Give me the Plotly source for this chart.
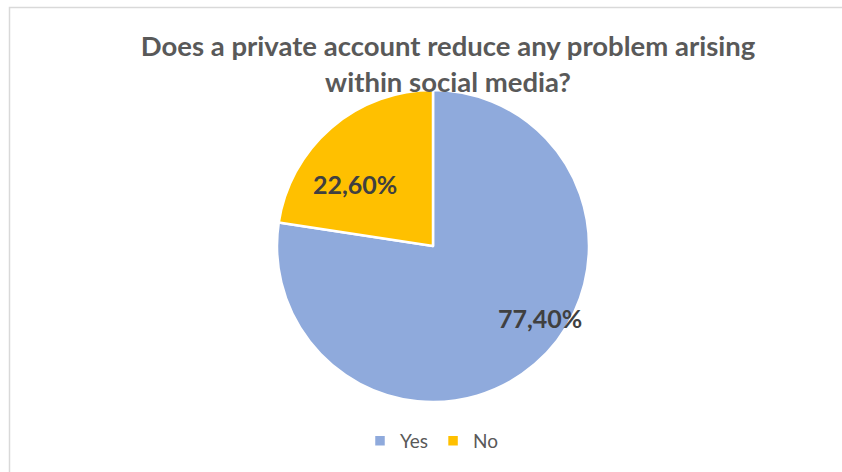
import plotly.graph_objects as go

# Survey answers and their shares
answers = ["Yes", "No"]
shares = [77.4, 22.6]
slice_colors = ["#8FAADC", "#FFC000"]
# Where each percentage label sits (paper pixels, from top-left)
label_spots = [(540, 318), (355, 184)]

W, H = 842, 472

fig = go.Figure(
    go.Pie(
        labels=answers,
        values=shares,
        sort=False,
        direction="clockwise",
        rotation=0,
        marker=dict(colors=slice_colors, line=dict(color="white", width=2.5)),
        textinfo="none",
        hoverinfo="label+percent",
        domain=dict(x=[277 / W, 589 / W], y=[70 / H, 382 / H]),
    )
)

annotations = []
for v, (px, py) in zip(shares, label_spots):
    annotations.append(
        dict(
            text=f"{v:.2f}%".replace(".", ","),
            x=px / W,
            y=1 - py / H,
            xref="paper",
            yref="paper",
            xanchor="center",
            yanchor="middle",
            showarrow=False,
            font=dict(family="Lato", size=25, color="#404040", weight="bold"),
        )
    )

fig.update_layout(
    width=W,
    height=H,
    margin=dict(l=0, r=0, t=0, b=0),
    paper_bgcolor="white",
    title=dict(
        text="Does a private account reduce any problem arising<br>within social media?",
        x=448 / W,
        xanchor="center",
        y=1 - 56 / H,
        yanchor="top",
        font=dict(family="Lato", size=27.5, color="#595959", weight="bold"),
    ),
    legend=dict(
        orientation="h",
        x=432 / W,
        xanchor="center",
        y=1 - 441 / H,
        yanchor="middle",
        font=dict(family="Lato", size=19, color="#595959"),
        itemwidth=30,
    ),
    annotations=annotations,
    shapes=[
        dict(
            type="rect",
            xref="paper",
            yref="paper",
            x0=9.5 / W,
            x1=1.05,
            y0=-0.05,
            y1=1 - 7.5 / H,
            line=dict(color="#D9D9D9", width=1.5),
            layer="below",
        )
    ],
)

fig.write_html("out.html")
